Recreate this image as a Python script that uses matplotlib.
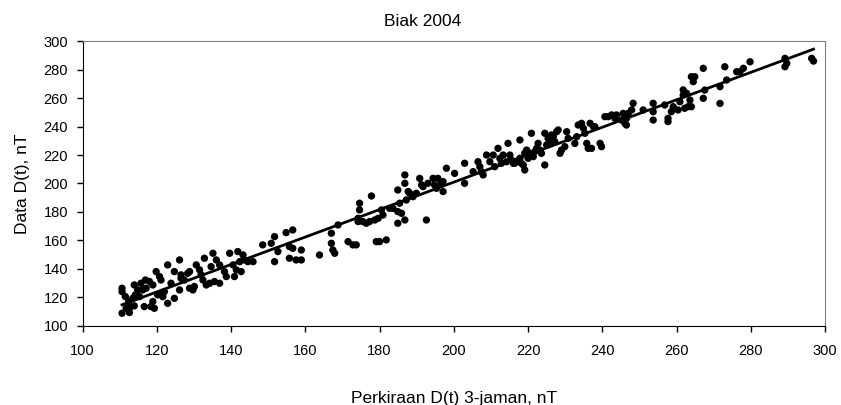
import matplotlib
matplotlib.use("Agg")
import matplotlib.pyplot as plt
import numpy as np

plt.rcParams['font.family'] = ['Liberation Sans', 'DejaVu Sans']

# estimated D(t) values, 3-hourly estimate (x) vs data (y)
est_x = [
	110.6, 110.6, 110.6, 112.6, 111.7, 113.0, 113.9, 112.4, 113.5, 114.2, 111.5, 113.9,
	114.8, 115.3, 116.2, 117.1, 115.7, 116.9, 118.0, 118.9, 116.6, 118.4, 118.9, 119.3,
	119.8, 120.7, 121.1, 120.2, 121.1, 122.0, 121.6, 122.9, 124.7, 122.9, 123.8, 124.7,
	126.1, 126.5, 126.5, 127.4, 126.1, 128.3, 128.8, 128.8, 129.7, 130.1, 130.6, 131.5,
	131.9, 132.4, 132.8, 133.3, 134.2, 135.1, 134.6, 135.5, 136.0, 136.9, 136.9, 138.2,
	138.7, 139.6, 140.5, 140.9, 141.4, 141.8, 142.3, 142.7, 143.2, 143.6, 144.5, 145.9,
	148.5, 150.8, 151.7, 151.7, 152.6,
	154.8, 156.6, 155.7, 156.6, 155.7, 157.5, 158.9, 158.9, 163.8, 167.0, 167.0, 167.4,
	167.9, 168.8, 171.5, 172.8, 173.7, 174.6, 174.6, 174.2, 174.2, 175.5, 176.4, 177.3,
	177.8, 178.7, 179.6, 179.1, 180.0, 180.5, 180.9, 181.8, 182.7, 183.6, 184.9, 184.9,
	184.9, 185.4, 185.9, 186.8, 186.8, 186.8, 187.2, 187.7, 188.1, 189.0, 189.9, 190.8,
	191.3, 191.7, 192.6, 193.0, 194.4, 194.8, 195.3, 195.7, 196.6, 197.1, 197.1, 198.0,
	200.2, 202.9, 202.9, 205.2, 206.5, 207.0, 207.4, 207.9, 208.8, 209.7, 210.6, 211.0,
	211.9, 212.4, 212.8, 213.3, 214.2, 214.6, 215.1, 215.5, 216.0, 216.4, 216.9, 217.8,
	217.8, 218.2, 218.7, 219.1, 219.1, 219.6, 220.0, 220.5, 220.9, 221.4, 221.8, 222.3,
	222.7, 223.2, 223.6, 224.5, 224.5, 225.0, 225.4, 225.9, 226.3, 226.8, 227.2, 227.7,
	228.1, 228.6, 229.0, 229.9, 230.4, 230.8, 232.6, 233.1, 233.5, 234.4, 234.9, 235.3,
	235.8, 236.2, 236.7, 237.1, 237.6, 238.0, 239.4, 239.8, 240.7, 241.6, 242.5, 243.4,
	243.8, 245.2, 245.6, 246.1, 246.5, 247.0, 247.9, 248.3, 246.5,
	251.0, 253.7, 253.7, 253.7, 256.8, 257.7, 257.7, 258.6, 259.1, 260.4, 260.9, 261.8,
	261.8, 262.2, 262.7, 263.1, 263.6, 264.0, 264.0, 264.9, 264.5,
	267.2, 273.0, 276.2, 277.1, 278.0, 279.8, 267.6, 267.2, 271.7, 273.5, 271.7, 289.2,
	289.7, 289.2, 296.4, 296.9,
]
data_y = [
	126.3, 123.9, 108.7, 109.2, 112.2, 113.4, 113.9, 116.9, 119.2, 121.6, 120.4, 128.6,
	125.1, 120.4, 125.1, 126.3, 129.8, 132.1, 131.0, 128.6, 113.4, 113.4, 116.9, 112.2,
	138.0, 134.5, 132.1, 121.6, 122.8, 123.9, 120.4, 115.7, 119.2, 142.7, 129.8, 138.0,
	146.2, 135.7, 133.3, 132.1, 125.1, 136.8, 138.0, 126.3, 125.1, 127.5, 142.7, 139.2,
	135.7, 132.1, 147.4, 128.6, 129.8, 150.9, 141.5, 131.0, 146.2, 142.7, 129.8, 138.0,
	134.5, 150.9, 142.7, 134.5, 139.2, 152.1, 145.0, 138.0, 149.7, 146.2, 145.0, 145.0,
	156.8, 157.9, 162.6, 145.0, 152.1,
	165.4, 167.3, 155.6, 154.4, 147.4, 146.2, 146.2, 153.2, 149.7, 165.0, 157.9, 153.2,
	150.9, 170.8, 159.1, 156.8, 156.8, 186.1, 181.4, 175.5, 173.2, 173.2, 172.0, 173.2,
	191.2, 174.3, 175.5, 159.1, 159.1, 181.4, 177.8, 160.3, 182.5, 182.5, 195.4, 172.0,
	180.2, 186.1, 179.0, 206.0, 200.1, 174.3, 188.4, 194.3, 193.1, 190.7, 193.1, 203.6,
	199.0, 197.8, 174.3, 200.1, 203.6, 199.0, 196.6, 203.6, 200.1, 201.3, 194.3, 210.7,
	207.1, 214.2, 200.1, 208.3, 215.3, 211.8, 208.3, 206.0, 220.0, 215.3, 220.0, 211.8,
	224.7, 217.7, 214.2, 220.0, 215.3, 228.2, 220.0, 216.5, 214.2, 214.2, 215.3, 217.7,
	230.6, 214.2, 213.0, 209.5, 221.2, 223.5, 217.7, 221.2, 235.3, 218.9, 222.4, 224.7,
	228.2, 223.5, 221.2, 235.3, 213.0, 227.1, 231.7, 228.2, 234.1, 232.9, 229.4, 236.4,
	237.6, 221.2, 223.5, 225.9, 236.4, 231.7, 228.2, 232.9, 241.1, 242.3, 238.8, 235.3,
	228.2, 224.7, 242.3, 224.7, 239.9, 239.9, 228.2, 225.9, 247.0, 247.0, 248.2, 245.8,
	248.2, 244.6, 249.3, 242.3, 245.8, 249.3, 251.7, 256.4, 241.1,
	251.7, 256.4, 244.6, 250.5, 255.2, 245.8, 243.5, 250.5, 254.0, 251.7, 257.5, 265.8,
	262.2, 252.9, 263.4, 254.0, 258.7, 254.0, 275.1, 275.1, 271.6,
	281.0, 282.1, 278.6, 278.6, 281.0, 285.6, 265.7, 259.9, 268.1, 272.8, 256.3, 288.0,
	284.5, 282.1, 288.0, 286.1,
]

est_x = np.array(est_x)
data_y = np.array(data_y)

fig = plt.figure(figsize=(8.41, 4.05), dpi=100)
ax = fig.add_axes([0.0983, 0.196, 0.8827, 0.702])

ax.scatter(est_x, data_y, s=28, color='black', edgecolors='none', zorder=3)

# linear trendline over the data range
coef = np.polyfit(est_x, data_y, 1)
xl = np.array([est_x.min(), est_x.max()])
ax.plot(xl, np.polyval(coef, xl), color='black', lw=2, zorder=4)

ax.set_xlim(100, 300)
ax.set_ylim(100, 300)
ax.set_xticks(np.arange(100, 301, 20))
ax.set_yticks(np.arange(100, 301, 20))

for side in ['top', 'right']:
	ax.spines[side].set_color('#808080')
for side in ['left', 'bottom']:
	ax.spines[side].set_color('black')
ax.tick_params(direction='out', length=4, width=1, labelsize=10.5)
ax.tick_params(axis='x', pad=9)
ax.tick_params(axis='y', pad=6.5)

# chart title sits centred on the whole figure (Excel style)
fig.text(0.502, 1 - 21.5 / 405, 'Biak 2004', fontsize=12.5, ha='center', va='center')
ax.set_xlabel('Perkiraan D(t) 3-jaman, nT', fontsize=12.5, labelpad=24)
ax.set_ylabel('Data D(t), nT', fontsize=12.5, labelpad=10)

fig.savefig('out.png', dpi=100)
